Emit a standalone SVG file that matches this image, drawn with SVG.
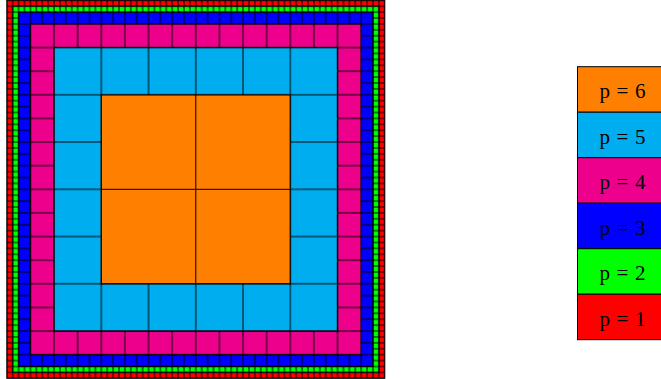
<svg xmlns="http://www.w3.org/2000/svg" width="661" height="379" viewBox="0 0 661 379">
<style>
.ln{stroke:#000;stroke-width:1;fill:none}
.lg{stroke:#000;stroke-width:1}
.t{font-family:"Liberation Serif","Times New Roman",serif;font-size:21px;fill:#000;text-anchor:middle}
</style>
<defs>
<pattern id="pR" patternUnits="userSpaceOnUse" x="-2.953" y="-2.953" width="5.90625" height="5.90625"><rect width="5.90625" height="5.90625" fill="#FF0000"/><path class="ln" d="M2.953 0V5.90625M0 2.953H5.90625"/></pattern>
<pattern id="pG" patternUnits="userSpaceOnUse" x="-2.953" y="-2.953" width="5.90625" height="5.90625"><rect width="5.90625" height="5.90625" fill="#00FF00"/><path class="ln" d="M2.953 0V5.90625M0 2.953H5.90625"/></pattern>
<pattern id="pB" patternUnits="userSpaceOnUse" x="-5.90625" y="-5.90625" width="11.8125" height="11.8125"><rect width="11.8125" height="11.8125" fill="#0000FF"/><path class="ln" d="M5.90625 0V11.8125M0 5.90625H11.8125"/></pattern>
<pattern id="pM" patternUnits="userSpaceOnUse" x="-11.8125" y="-11.8125" width="23.625" height="23.625"><rect width="23.625" height="23.625" fill="#EC008C"/><path class="ln" d="M11.8125 0V23.625M0 11.8125H23.625"/></pattern>
<pattern id="pC" patternUnits="userSpaceOnUse" x="-23.625" y="-23.625" width="47.25" height="47.25"><rect width="47.25" height="47.25" fill="#00AEEF"/><path class="ln" d="M23.625 0V47.25M0 23.625H47.25"/></pattern>
<pattern id="pO" patternUnits="userSpaceOnUse" x="-47.25" y="-47.25" width="94.5" height="94.5"><rect width="94.5" height="94.5" fill="#FF8000"/><path class="ln" d="M47.25 0V94.5M0 47.25H94.5"/></pattern>
</defs>
<g id="mesh" transform="translate(6.8,0.3)">
<g id="ring-p1"><path fill="url(#pR)" fill-rule="evenodd" d="M0 0H378V378H0Z M5.90625 5.90625H372.09375V372.09375H5.90625Z"/></g>
<g id="ring-p2"><path fill="url(#pG)" fill-rule="evenodd" d="M5.90625 5.90625H372.09375V372.09375H5.90625Z M11.8125 11.8125H366.1875V366.1875H11.8125Z"/></g>
<g id="ring-p3"><path fill="url(#pB)" fill-rule="evenodd" d="M11.8125 11.8125H366.1875V366.1875H11.8125Z M23.625 23.625H354.375V354.375H23.625Z"/></g>
<g id="ring-p4"><path fill="url(#pM)" fill-rule="evenodd" d="M23.625 23.625H354.375V354.375H23.625Z M47.25 47.25H330.75V330.75H47.25Z"/></g>
<g id="ring-p5"><path fill="url(#pC)" fill-rule="evenodd" d="M47.25 47.25H330.75V330.75H47.25Z M94.5 94.5H283.5V283.5H94.5Z"/></g>
<g id="core-p6"><rect x="94.5" y="94.5" width="189" height="189" fill="url(#pO)"/></g>
<g id="outlines">
<rect class="ln" x="0" y="0" width="378" height="378"/>
<rect class="ln" x="5.90625" y="5.90625" width="366.1875" height="366.1875"/>
<rect class="ln" x="11.8125" y="11.8125" width="354.375" height="354.375"/>
<rect class="ln" x="23.625" y="23.625" width="330.75" height="330.75"/>
<rect class="ln" x="47.25" y="47.25" width="283.5" height="283.5"/>
<rect class="ln" x="94.5" y="94.5" width="189" height="189"/>
</g>
</g>
<g id="legend">
<g id="leg-p6"><rect class="lg" x="577.5" y="66.7" width="90" height="45.5" fill="#FF8000"/><text class="t" x="622.5" y="98.3" textLength="46" lengthAdjust="spacing">p=6</text></g>
<g id="leg-p5"><rect class="lg" x="577.5" y="112.2" width="90" height="45.5" fill="#00AEEF"/><text class="t" x="622.5" y="143.8" textLength="46" lengthAdjust="spacing">p=5</text></g>
<g id="leg-p4"><rect class="lg" x="577.5" y="157.7" width="90" height="45.5" fill="#EC008C"/><text class="t" x="622.5" y="189.3" textLength="46" lengthAdjust="spacing">p=4</text></g>
<g id="leg-p3"><rect class="lg" x="577.5" y="203.2" width="90" height="45.5" fill="#0000FF"/><text class="t" x="622.5" y="234.8" textLength="46" lengthAdjust="spacing">p=3</text></g>
<g id="leg-p2"><rect class="lg" x="577.5" y="248.7" width="90" height="45.5" fill="#00FF00"/><text class="t" x="622.5" y="280.3" textLength="46" lengthAdjust="spacing">p=2</text></g>
<g id="leg-p1"><rect class="lg" x="577.5" y="294.2" width="90" height="45.5" fill="#FF0000"/><text class="t" x="622.5" y="325.8" textLength="46" lengthAdjust="spacing">p=1</text></g>
</g>
</svg>
